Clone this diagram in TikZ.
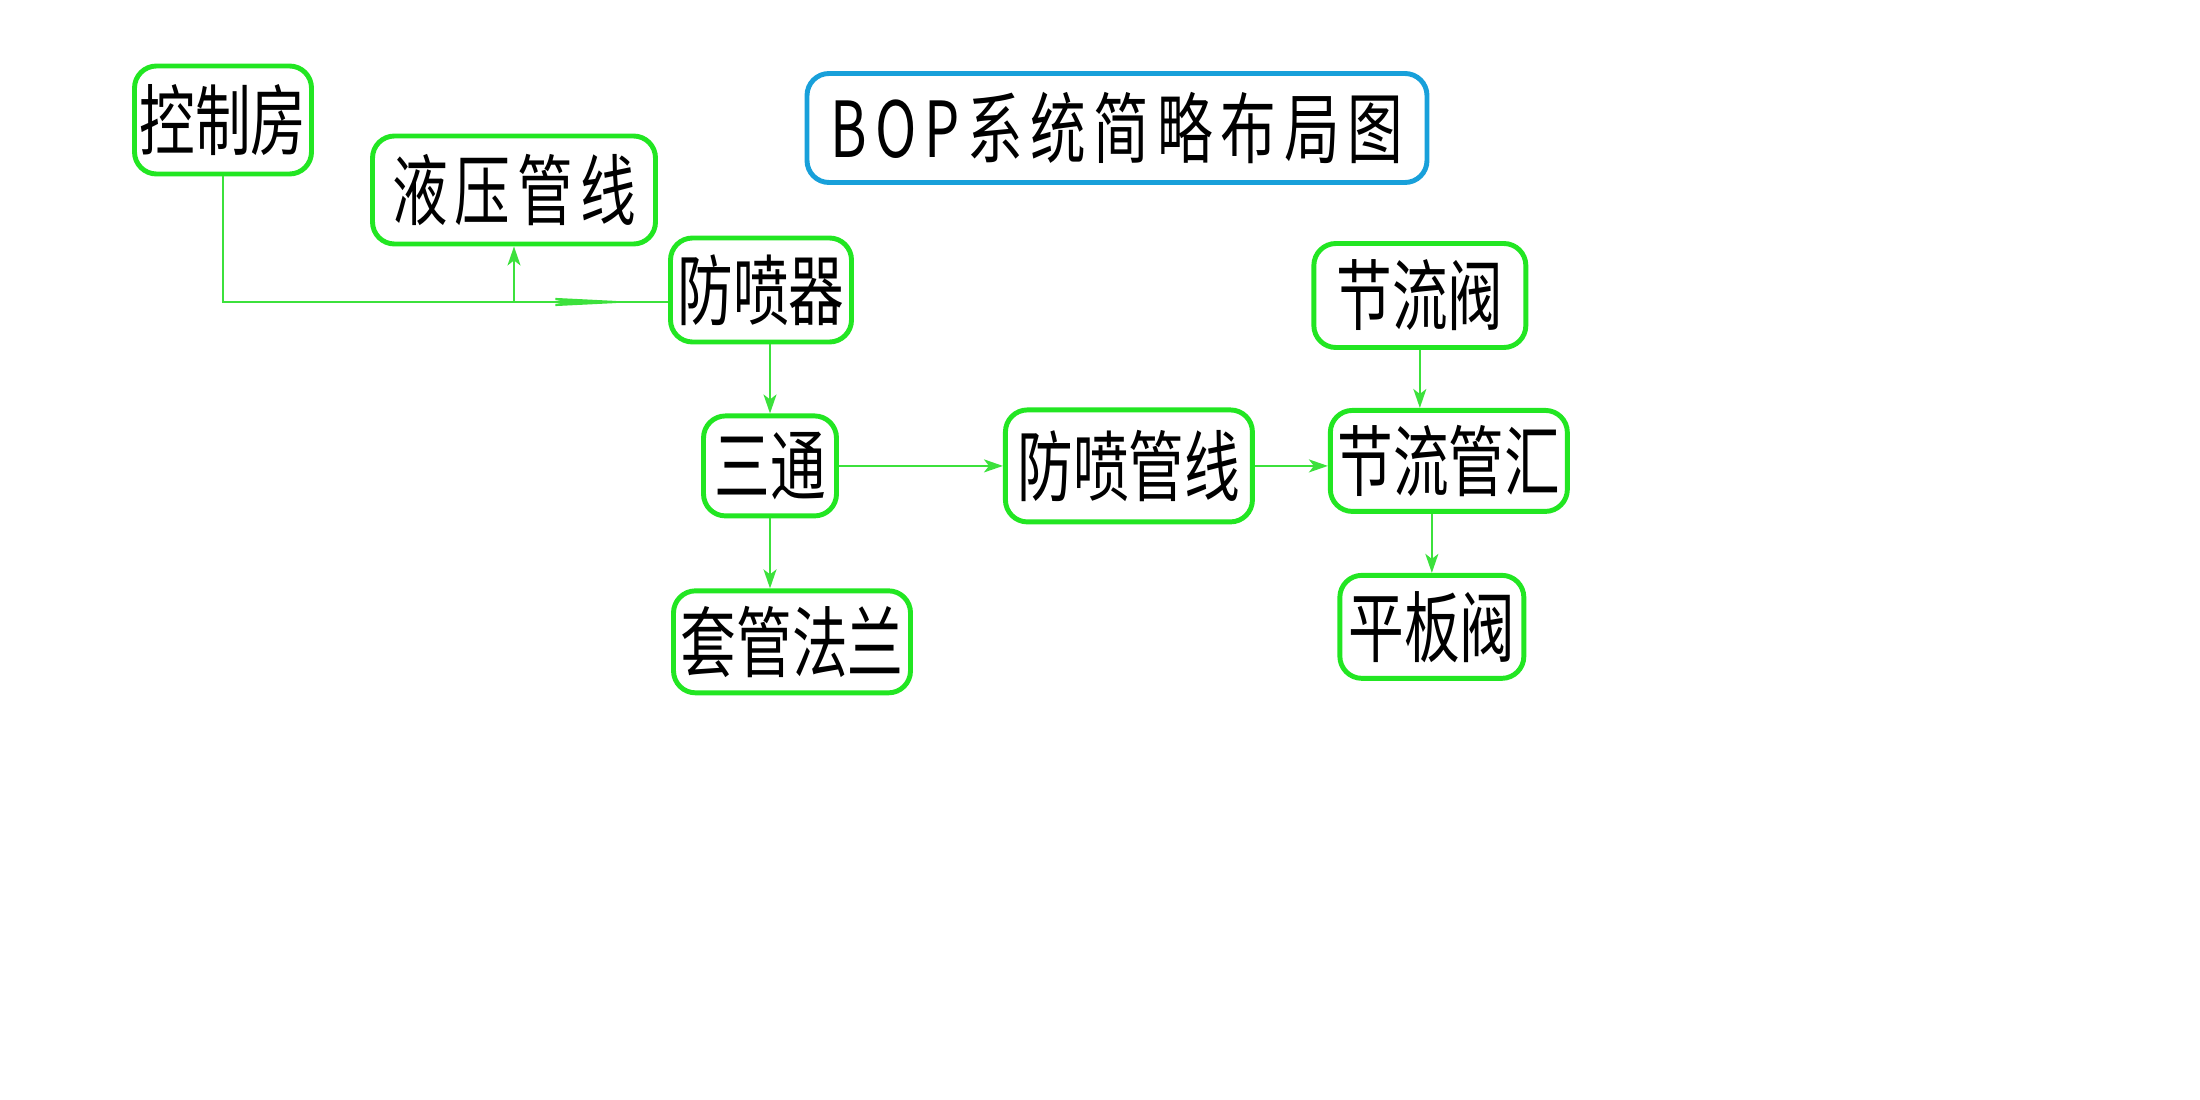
\documentclass[tikz,border=0pt]{standalone}
\usepackage{fontspec}
\newfontfamily\cjk[FakeStretch=0.72]{Noto Sans CJK SC}
\newfontfamily\cjkloose[FakeStretch=0.72, LetterSpace=9]{Noto Sans CJK SC}
\newfontfamily\cjkwide[FakeStretch=0.72, LetterSpace=10]{Noto Sans CJK SC}
\usetikzlibrary{arrows.meta, positioning, calc, decorations.markings}
\definecolor{boxgreen}{RGB}{34,230,34}
\definecolor{linegreen}{RGB}{60,225,60}
\definecolor{titleblue}{RGB}{24,160,218}

\begin{document}
\begin{tikzpicture}[
      font=\cjk\fontsize{22}{24}\selectfont,
      part/.style={rectangle, draw=boxgreen, line width=1.4pt, rounded corners=0.22cm, minimum height=1.04cm, inner sep=0pt, align=center, fill=white},
      heading/.style={part, draw=titleblue, minimum width=6.2cm, minimum height=1.09cm},
      pipe/.style={draw=linegreen, line width=0.6pt},
      arrow/.style={pipe, -{Stealth[length=0.19cm, width=0.13cm, inset=0.05cm]}},
      feather/.style={postaction={decorate}, decoration={markings, mark=at position 0.946 with {\arrow[linegreen]{Stealth[length=1.0cm, width=0.1cm, inset=0.3cm]}}}}
    ]
    \useasboundingbox (0,0) rectangle (22,-11);

    \node[part, minimum width=1.77cm, minimum height=1.08cm] (room) at (2.23,-1.20) {控制房};
    \node[part, minimum width=2.83cm, minimum height=1.08cm] (hyd) at (5.14,-1.90) {\cjkloose 液压管线};
    \node[heading] (title) at (11.17,-1.28) {\cjkwide BOP系统简略布局图};

    \node[part, minimum width=1.81cm] (bop) at (7.61,-2.90) {防喷器};
    \node[part, minimum width=1.33cm, minimum height=1.00cm, below=0.69cm of bop, xshift=0.09cm] (tee) {三通};
    \node[part, minimum width=2.37cm, minimum height=1.02cm, below=0.70cm of tee, xshift=0.22cm] (flange) {套管法兰};
    \node[part, minimum width=2.47cm, minimum height=1.12cm, right=1.64cm of tee] (bopline) {防喷管线};

    \node[part, minimum width=2.37cm, minimum height=1.01cm, right=0.73cm of bopline, yshift=0.05cm] (manifold) {节流管汇};
    \node[part, minimum width=2.12cm, above=0.58cm of manifold, xshift=-0.29cm] (choke) {节流阀};
    \node[part, minimum width=1.84cm, minimum height=1.03cm, below=0.59cm of manifold, xshift=-0.17cm] (gate) {平板阀};

    % control line into the BOP, branch up to the hydraulic lines
    \coordinate (split) at ($(hyd.south |- bop.west)+(0,-0.12)$);
    \draw[pipe, feather] (room.south) |- ([yshift=-0.12cm]bop.west);
    \draw[arrow] (split) -- (hyd.south);

    \draw[arrow] (tee.north |- bop.south) -- (tee.north);
    \draw[arrow] (tee.south) -- (tee.south |- flange.north);
    \draw[arrow] (tee.east) -- (tee.east -| bopline.west);
    \draw[arrow] (bopline.east) -- (bopline.east -| manifold.west);
    \draw[arrow] (choke.south) -- (choke.south |- manifold.north);
    \draw[arrow] (gate.north |- manifold.south) -- (gate.north);
  \end{tikzpicture}
\end{document}
